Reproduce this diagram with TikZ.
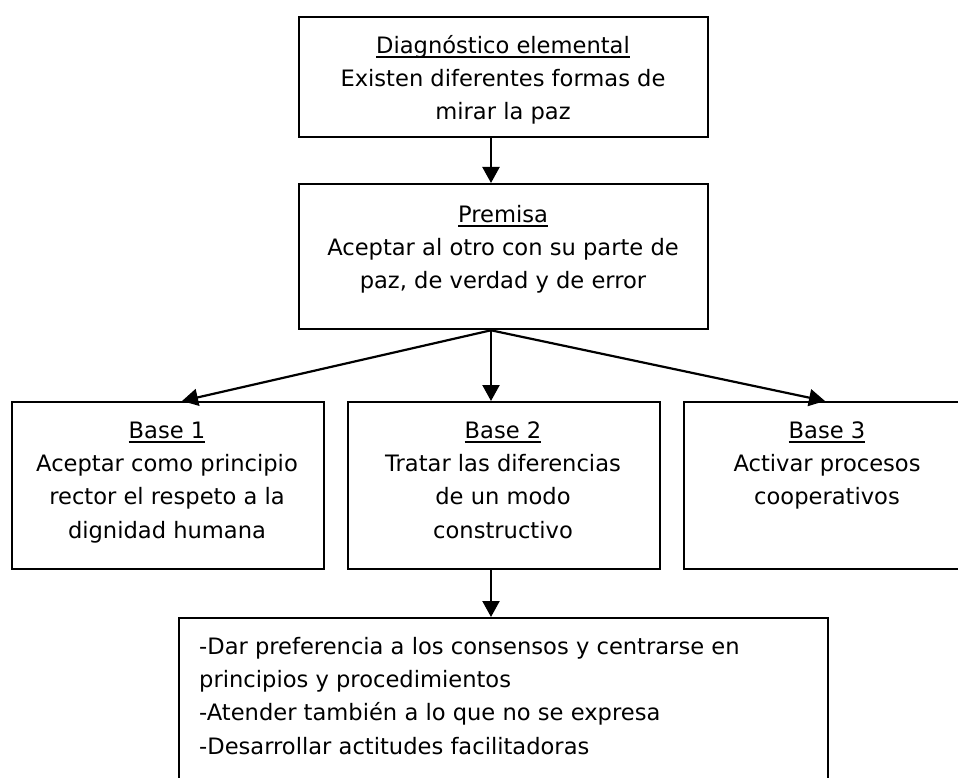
\documentclass[tikz,border=0pt]{standalone}
\usepackage{fontspec}
\setmainfont{DejaVu Sans}
\usetikzlibrary{arrows.meta}
\newcommand\ulin[1]{\setbox0=\hbox{#1}\rlap{\rule[-4.5pt]{\wd0}{1.5pt}}\box0}
\newcommand\firstl{\rule{0pt}{20pt}}
\begin{document}
\begin{tikzpicture}[x=1pt,y=-1pt,
  box/.style={draw, line width=2.3pt, inner sep=0pt, anchor=north west},
  txt/.style={inner sep=0pt, anchor=north, align=center,
    font=\fontsize{22.6}{33.3}\selectfont},
  ltxt/.style={inner sep=0pt, anchor=north west, align=left,
    font=\fontsize{22.6}{33.3}\selectfont},
  arr/.style={line width=2.2pt, -{Triangle[length=16pt,width=17pt]}}]
\useasboundingbox (0,0) rectangle (958,778);
\clip (0,0) rectangle (958,778);
% boxes
\node[box, minimum width=409pt, minimum height=120pt] (A) at (298,16) {};
\node[box, minimum width=409pt, minimum height=145pt] (B) at (298,183) {};
\node[box, minimum width=312pt, minimum height=167pt] (b1) at (11,401) {};
\node[box, minimum width=312pt, minimum height=167pt] (b2) at (347,401) {};
\node[box, minimum width=288pt, minimum height=167pt] (b3) at (683,401) {};
\node[box, minimum width=649pt, minimum height=190pt] (D) at (178,617) {};
% texts
\node[txt] (tA) at (503,33) {\firstl\ulin{Diagnóstico elemental}\\Existen diferentes formas de\\mirar la paz};
\node[txt] (tB) at (503,202) {\firstl\ulin{Premisa}\\Aceptar al otro con su parte de\\paz, de verdad y de error};
\node[txt] (t1) at (167,418) {\firstl\ulin{Base 1}\\Aceptar como principio\\rector el respeto a la\\dignidad humana};
\node[txt] (t2) at (503,418) {\firstl\ulin{Base 2}\\Tratar las diferencias\\de un modo\\constructivo};
\node[txt] (t3) at (827,418) {\firstl\ulin{Base 3}\\Activar procesos\\cooperativos};
\node[ltxt] (tD) at (199,634) {\firstl-Dar preferencia a los consensos y centrarse en\\principios y procedimientos\\-Atender también a lo que no se expresa\\-Desarrollar actitudes facilitadoras};
% connector x positions
\coordinate (ax) at (491,0);
\coordinate (p1) at (182,0);
\coordinate (p3) at (825,0);
\draw[arr] (A.south -| ax) -- (B.north -| ax);
\draw[arr] (B.south -| ax) -- (b1.north -| p1);
\draw[arr] (B.south -| ax) -- (b2.north -| ax);
\draw[arr] (B.south -| ax) -- (b3.north -| p3);
\draw[arr] (b2.south -| ax) -- (D.north -| ax);
\end{tikzpicture}
\end{document}
